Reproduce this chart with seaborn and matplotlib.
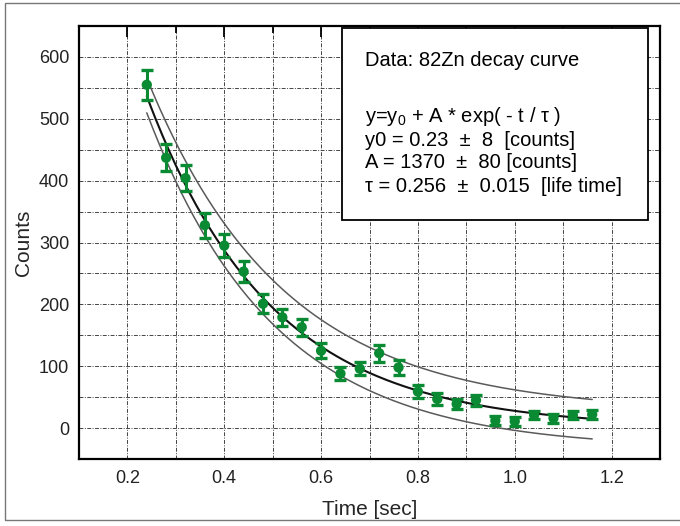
import numpy as np
import pandas as pd
import matplotlib
matplotlib.use("Agg")
import matplotlib.pyplot as plt
import seaborn as sns
from matplotlib.patches import Rectangle
from matplotlib.ticker import MultipleLocator

# ---- data ----
time_s = [0.24, 0.28, 0.32, 0.36, 0.40, 0.44, 0.48, 0.52, 0.56, 0.60, 0.64, 0.68,
          0.72, 0.76, 0.80, 0.84, 0.88, 0.92, 0.96, 1.00, 1.04, 1.08, 1.12, 1.16]
counts = [555, 437, 404, 328, 295, 253, 201, 179, 163, 125, 88, 96,
          121, 98, 59, 47, 39, 45, 12, 11, 21, 16, 21, 22]
count_err = [24, 22, 21, 20, 18, 17, 15, 14, 14, 12, 11, 11,
             14, 12, 10, 9, 8, 9, 7, 7, 7, 7, 7, 7]

# fit parameters (stated in the chart) and the confidence band curves
fit_y0, fit_A, fit_tau = 0.23, 1370.0, 0.256
upper_y0, upper_A, upper_tau = 26.0, 1272.0, 0.280
lower_y0, lower_A, lower_tau = -34.0, 1354.0, 0.263
fit_range = (0.24, 1.16)

info_lines = [
    "Data: 82Zn decay curve",
    "",
    r"y=y$_{\mathregular{0}}$ + A * exp( - t / $\mathregular{\tau}$ )",
    "y0 = 0.23  \u00b1  8  [counts]",
    "A = 1370  \u00b1  80 [counts]",
    "\u03c4 = 0.256  \u00b1  0.015  [life time]",
]

sns.set_style("white")
plt.rcParams['font.family'] = ['Liberation Sans', 'DejaVu Sans']
plt.rcParams['mathtext.fontset'] = 'custom'
plt.rcParams['mathtext.rm'] = 'Liberation Sans'
plt.rcParams['mathtext.it'] = 'Liberation Sans'

W, H = 680, 526
fig = plt.figure(figsize=(W / 100, H / 100), dpi=100)
ax = fig.add_axes([79 / W, 1 - 459 / H, (660 - 79) / W, (459 - 26) / H])

# grid
grid_style = dict(color='#444444', linewidth=0.7, linestyle=(0, (4, 1.5, 1, 1.5)))
ax.xaxis.set_major_locator(MultipleLocator(0.2))
ax.xaxis.set_minor_locator(MultipleLocator(0.1))
ax.yaxis.set_major_locator(MultipleLocator(100))
ax.yaxis.set_minor_locator(MultipleLocator(50))
ax.grid(True, which='both', **grid_style)
ax.set_axisbelow(True)

# fit curves
t_fit = np.linspace(fit_range[0], fit_range[1], 200)
curves = pd.DataFrame({
    't': np.concatenate([t_fit] * 3),
    'y': np.concatenate([
        fit_y0 + fit_A * np.exp(-t_fit / fit_tau),
        upper_y0 + upper_A * np.exp(-t_fit / upper_tau),
        lower_y0 + lower_A * np.exp(-t_fit / lower_tau),
    ]),
    'curve': ['fit'] * len(t_fit) + ['upper'] * len(t_fit) + ['lower'] * len(t_fit),
})
sns.lineplot(data=curves[curves.curve != 'fit'], x='t', y='y', units='curve',
             estimator=None, color='#5a5a5a', linewidth=1.1, ax=ax, zorder=3)
sns.lineplot(data=curves[curves.curve == 'fit'], x='t', y='y',
             estimator=None, color='#111111', linewidth=1.5, ax=ax, zorder=4)

# data points with error bars
green = '#0a8a32'
df = pd.DataFrame({'t': time_s, 'counts': counts, 'err': count_err})
ax.errorbar(df.t, df.counts, yerr=df.err, fmt='none', ecolor=green,
            elinewidth=2.2, capsize=4.5, capthick=2.4, zorder=5)
sns.scatterplot(data=df, x='t', y='counts', color=green, s=55, edgecolor='none',
                ax=ax, zorder=6)

ax.set_xlim(0.1, 1.3)
ax.set_ylim(-50, 650)
ax.set_xlabel("Time [sec]", fontsize=15, labelpad=9)
ax.set_ylabel("Counts", fontsize=15, labelpad=4)

for s in ax.spines.values():
    s.set_linewidth(1.6)
    s.set_color('black')
ax.tick_params(axis='both', which='both', direction='in', colors='black',
               labelcolor='#222222', labelsize=13, width=1.3)
ax.tick_params(axis='x', which='major', length=8, pad=8, top=True)
ax.tick_params(axis='x', which='minor', length=5, top=True)
ax.tick_params(axis='y', which='major', length=8, pad=7)
ax.tick_params(axis='y', which='minor', length=8)
ax.xaxis.set_major_formatter(matplotlib.ticker.FormatStrFormatter('%.1f'))

# info box
box = Rectangle((342 / W, 1 - 220 / H), (648 - 342) / W, (220 - 28) / H,
                transform=fig.transFigure, facecolor='white', edgecolor='black',
                linewidth=1.3, zorder=10, clip_on=False)
ax.add_patch(box)
y_pos = [60, 84, 117, 140, 163, 187]
for line, yp in zip(info_lines, y_pos):
    if line:
        fig.text(365 / W, 1 - yp / H, line, fontsize=14.5, va='center', ha='left',
                 zorder=11, color='black')

# figure border
fig.patches.append(Rectangle((5 / W, 1 - 520 / H), 1.0, (520 - 3) / H,
                             transform=fig.transFigure, fill=False,
                             edgecolor='#777777', linewidth=1.0))

fig.savefig("out.png", dpi=100)
